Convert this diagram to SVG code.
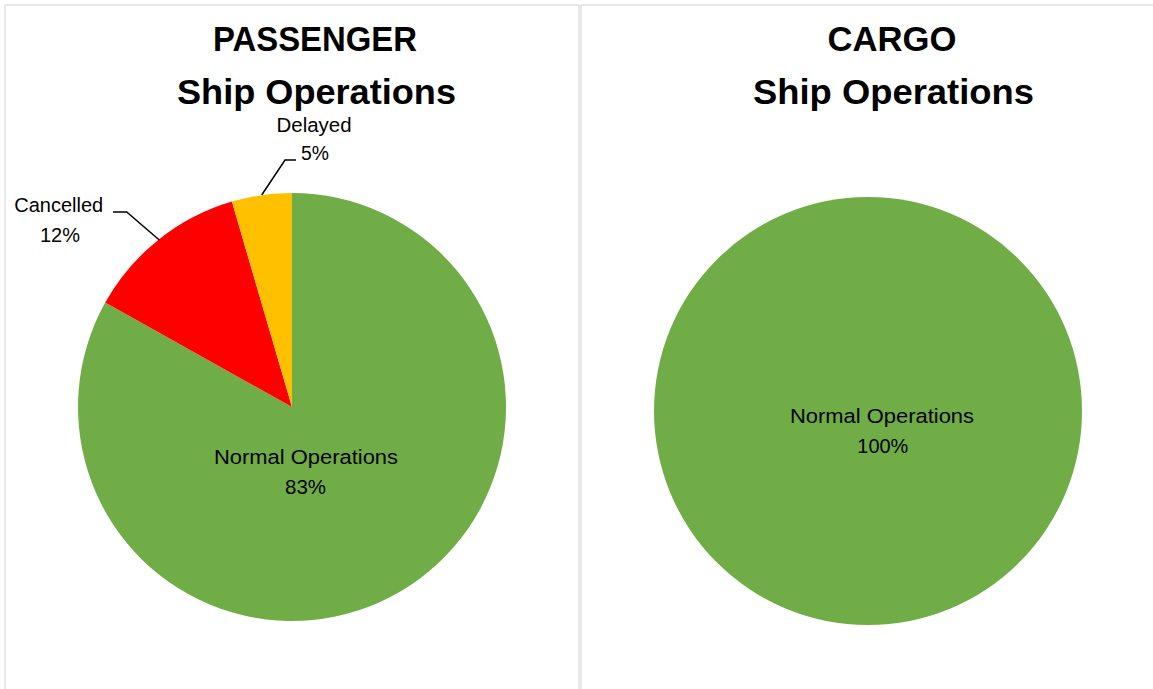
<svg xmlns="http://www.w3.org/2000/svg" width="1153" height="689" viewBox="0 0 1153 689">
  <style>
    .panel { fill: #FFFFFF; stroke: #D9D9D9; stroke-width: 1.2; }
    .title { font-family: "Liberation Sans", Arial, sans-serif; font-weight: bold; font-size: 35px; fill: #000000; text-anchor: middle; }
    .lbl { font-family: "Liberation Sans", Arial, sans-serif; font-size: 20.5px; fill: #000000; text-anchor: middle; }
    .green { fill: #70AD47; }
    .red { fill: #FF0000; }
    .yellow { fill: #FFC000; }
    .leader { fill: none; stroke: #000000; stroke-width: 1.5; }
  </style>
  <rect x="0" y="0" width="1153" height="689" fill="#FFFFFF"/>
  <g id="panel-passenger">
    <rect class="panel" x="5" y="5" width="574" height="700"/>
  </g>
  <g id="panel-cargo">
    <rect class="panel" x="581" y="5" width="600" height="700"/>
  </g>
  <g id="title-passenger">
    <text class="title" x="315" y="51" textLength="204" lengthAdjust="spacingAndGlyphs">PASSENGER</text>
    <text class="title" x="316.5" y="104" textLength="279" lengthAdjust="spacingAndGlyphs">Ship Operations</text>
  </g>
  <g id="title-cargo">
    <text class="title" x="892" y="51" textLength="129" lengthAdjust="spacingAndGlyphs">CARGO</text>
    <text class="title" x="893.5" y="104" textLength="281" lengthAdjust="spacingAndGlyphs">Ship Operations</text>
  </g>
  <g id="slice-normal-passenger">
    <path class="green" d="M292,407 L292,193 A214,214 0 1,1 105.2,302.6 Z"/>
  </g>
  <g id="slice-cancelled">
    <path class="red" d="M292,407 L105.2,302.6 A214,214 0 0,1 231.9,201.6 Z"/>
  </g>
  <g id="slice-delayed">
    <path class="yellow" d="M292,407 L231.9,201.6 A214,214 0 0,1 292,193 Z"/>
  </g>
  <g id="slice-normal-cargo">
    <circle class="green" cx="868" cy="411" r="214"/>
  </g>
  <g id="connectors">
    <polyline class="leader" points="113,212 126.7,212 159.3,240"/>
    <polyline class="leader" points="261.7,195 285,160 296,160"/>
  </g>
  <g id="label-normal-passenger">
    <text class="lbl" x="306" y="463.5" textLength="184" lengthAdjust="spacingAndGlyphs">Normal Operations</text>
    <text class="lbl" x="305.5" y="493.5" textLength="41" lengthAdjust="spacingAndGlyphs">83%</text>
  </g>
  <g id="label-cancelled">
    <text class="lbl" x="58.7" y="211.7" textLength="89" lengthAdjust="spacingAndGlyphs">Cancelled</text>
    <text class="lbl" x="60" y="241.7" textLength="40" lengthAdjust="spacingAndGlyphs">12%</text>
  </g>
  <g id="label-delayed">
    <text class="lbl" x="314" y="131.7" textLength="75" lengthAdjust="spacingAndGlyphs">Delayed</text>
    <text class="lbl" x="315" y="160" textLength="28" lengthAdjust="spacingAndGlyphs">5%</text>
  </g>
  <g id="label-normal-cargo">
    <text class="lbl" x="882" y="423.3" textLength="184" lengthAdjust="spacingAndGlyphs">Normal Operations</text>
    <text class="lbl" x="882.8" y="453.3" textLength="51" lengthAdjust="spacingAndGlyphs">100%</text>
  </g>
</svg>
